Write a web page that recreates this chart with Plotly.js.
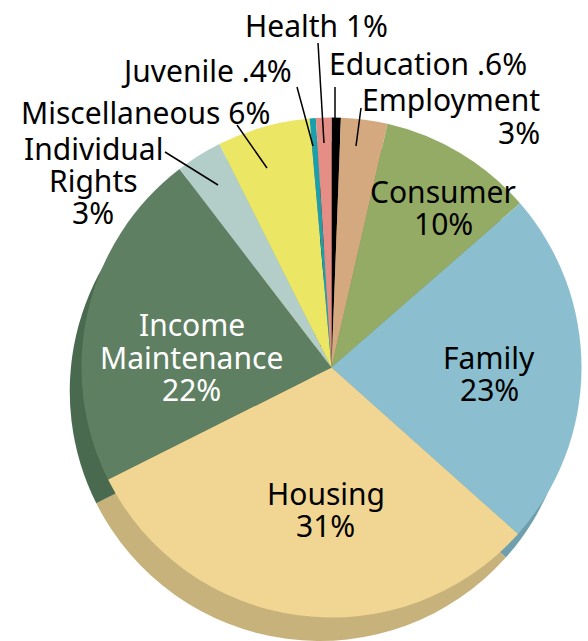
<!DOCTYPE html>
<html>
<head>
<meta charset="utf-8">
<script src="https://cdn.plot.ly/plotly-3.0.1.min.js"></script>
<style>
  html, body { margin: 0; padding: 0; background: #ffffff; }
  #chart { width: 588px; height: 641px; }
</style>
</head>
<body>
<div id="chart"></div>
<script>
// ---- data (clockwise from 12 o'clock) ----
const categories = ['Education', 'Employment', 'Consumer', 'Family', 'Housing',
                    'Income Maintenance', 'Individual Rights', 'Miscellaneous', 'Juvenile', 'Health'];
const shares = [0.6, 3, 10, 23, 31, 22, 3, 6, 0.4, 1];
const valueLabels = ['.6%', '3%', '10%', '23%', '31%', '22%', '3%', '6%', '.4%', '1%'];

// ---- styles ----
const faceColors = ['#000000', '#d4a97f', '#94ab66', '#8bbfcf', '#f1d693',
                    '#5f7f62', '#b3cdc8', '#ebe764', '#1aa0ad', '#e58e85'];
const sideColors = ['#000000', '#b08a62', '#768b4f', '#6f9fac', '#c8b27b',
                    '#4a6a4f', '#8fa8a3', '#c4c04c', '#12808b', '#bd6f67'];

const W = 588, H = 641;
const px = x => x / W;
const py = y => 1 - y / H;
const clamp = v => Math.max(0, Math.min(1, v));

const cx = 331.5, cy = 367.5, R = 250;
const dx = -12, dy = 24;

function domainFor(cxp, cyp, r) {
  return {
    x: [clamp(px(cxp - r)), clamp(px(cxp + r))],
    y: [clamp(py(cyp + r)), clamp(py(cyp - r))]
  };
}

const common = {
  type: 'pie',
  labels: categories,
  values: shares,
  sort: false,
  direction: 'clockwise',
  rotation: 0,
  textinfo: 'none',
  hoverinfo: 'label+percent',
  showlegend: false
};

const sideTrace = Object.assign({}, common, {
  marker: { colors: sideColors, line: { width: 0 } },
  domain: domainFor(cx + dx, cy + dy, R),
  hoverinfo: 'skip'
});
const faceTrace = Object.assign({}, common, {
  marker: { colors: faceColors, line: { width: 0 } },
  domain: domainFor(cx, cy, R)
});

// ---- label placement (pixel positions of each line's middle) ----
const LS = 32;
const labelSpecs = [
  { i: 0, mode: 'inline', x: 427.5, y: 63, anchor: 'center', color: '#000' },
  { i: 1, mode: 'stack',  x: 542,   y: 100, anchor: 'right', color: '#000' },
  { i: 2, mode: 'stack',  x: 443,   y: 191, anchor: 'center', color: '#000' },
  { i: 3, mode: 'stack',  x: 489,   y: 357, anchor: 'center', color: '#000' },
  { i: 4, mode: 'stack',  x: 326,   y: 493, anchor: 'center', color: '#000' },
  { i: 5, mode: 'stack',  x: 192,   y: 325, anchor: 'center', color: '#ffffff' },
  { i: 6, mode: 'stack',  x: 93,    y: 149, anchor: 'center', color: '#000' },
  { i: 7, mode: 'inline', x: 145,   y: 112, anchor: 'center', color: '#000' },
  { i: 8, mode: 'inline', x: 206,   y: 70,  anchor: 'center', color: '#000' },
  { i: 9, mode: 'inline', x: 316.5, y: 26,  anchor: 'center', color: '#000' }
];

const leaderLines = [
  { i: 1, x0: 356, y0: 146, x1: 361, y1: 108 },
  { i: 0, x0: 335, y0: 137, x1: 335, y1: 87 },
  { i: 9, x0: 324, y0: 143, x1: 318, y1: 43 },
  { i: 8, x0: 313, y0: 146, x1: 297, y1: 87 },
  { i: 7, x0: 267, y0: 168, x1: 237, y1: 125 },
  { i: 6, x0: 218, y0: 185, x1: 165, y1: 152 }
];

const FONT = 'Noto Sans, Open Sans, sans-serif';
const annotations = [];
labelSpecs.forEach(s => {
  const lines = s.mode === 'inline'
    ? [categories[s.i] + ' ' + valueLabels[s.i]]
    : categories[s.i].split(' ').concat([valueLabels[s.i]]);
  lines.forEach((t, k) => {
    annotations.push({
      text: t,
      xref: 'paper', yref: 'paper',
      x: px(s.x), y: py(s.y + k * LS),
      xanchor: s.anchor, yanchor: 'middle',
      showarrow: false,
      font: { family: FONT, size: 30, color: s.color }
    });
  });
});

const shapes = leaderLines.map(l => ({
  type: 'line', xref: 'paper', yref: 'paper',
  x0: px(l.x0), y0: py(l.y0), x1: px(l.x1), y1: py(l.y1),
  line: { color: '#000000', width: 1.5 }
}));

const layout = {
  width: W, height: H,
  margin: { l: 0, r: 0, t: 0, b: 0, pad: 0 },
  paper_bgcolor: '#ffffff',
  plot_bgcolor: '#ffffff',
  showlegend: false,
  annotations: annotations,
  shapes: shapes,
  font: { family: FONT }
};

Plotly.newPlot('chart', [sideTrace, faceTrace], layout, { displayModeBar: false, staticPlot: true });
</script>
</body>
</html>
